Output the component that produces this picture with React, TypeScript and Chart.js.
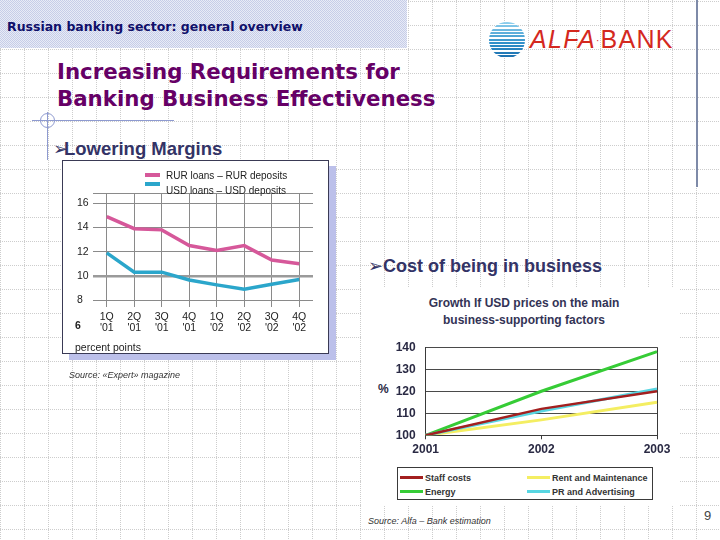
import React, { useEffect, useRef } from "react";
import { Chart, registerables } from "chart.js";

Chart.register(...registerables);

// ---------- Left chart data: Lowering margins ----------
const quarterLabels = [
  ["1Q", "'01"], ["2Q", "'01"], ["3Q", "'01"], ["4Q", "'01"],
  ["1Q", "'02"], ["2Q", "'02"], ["3Q", "'02"], ["4Q", "'02"],
];
const rurMargin = [14.9, 13.9, 13.8, 12.5, 12.1, 12.5, 11.3, 11.0];
const usdMargin = [11.9, 10.3, 10.3, 9.65, 9.25, 8.9, 9.3, 9.7];
const marginTicks = [8, 10, 12, 14, 16];
const marginTop = 16.85;
const marginSeriesNames = ["RUR loans – RUR deposits", "USD loans – USD deposits"];

// ---------- Right chart data: growth of USD prices ----------
const years = ["2001", "2002", "2003"];
const staffCosts = [100, 112, 120];
const rentMaintenance = [100, 107, 115];
const energy = [100, 120, 138];
const prAdvertising = [100, 111, 121];
const growthTicks = [100, 110, 120, 130, 140];
const growthSeriesNames = ["Staff costs", "Rent and Maintenance", "Energy", "PR and Advertising"];

const PINK = "#d6589a";
const BLUE = "#2ba6cb";
const RED = "#a31f1f";
const YELLOW = "#f4ee62";
const GREEN = "#36cc36";
const CYAN = "#58d6e2";

const SANS = "'Liberation Sans', Arial, sans-serif";
const DEJA = "'DejaVu Sans', sans-serif";

const gridTile =
  "url(\"data:image/svg+xml;utf8,<svg xmlns='http://www.w3.org/2000/svg' width='24' height='24'><path d='M0.5 0V24M0 1.5H24' stroke='%23cdcdcd' stroke-width='1' stroke-dasharray='1 1'/></svg>\")";
const checkTile =
  "url(\"data:image/svg+xml;utf8,<svg xmlns='http://www.w3.org/2000/svg' width='2' height='2'><rect width='2' height='2' fill='%23e8ebf6'/><rect width='1' height='1' fill='%23c6cde8'/><rect x='1' y='1' width='1' height='1' fill='%23c6cde8'/></svg>\")";

function ChartCanvas(props: { config: any; left: number; top: number; width: number; height: number }) {
  const ref = useRef<HTMLCanvasElement>(null);
  useEffect(() => {
    const chart = new Chart(ref.current as HTMLCanvasElement, props.config);
    return () => chart.destroy();
  }, []);
  return (
    <canvas
      ref={ref}
      width={props.width}
      height={props.height}
      style={{ position: "absolute", left: props.left, top: props.top, width: props.width, height: props.height }}
    />
  );
}

function T(props: { x: number; y: number; size: number; children: any; style?: any; anchor?: "left" | "center" | "right" }) {
  const { x, y, size, children, style, anchor } = props;
  const tr = anchor === "center" ? "translateX(-50%)" : anchor === "right" ? "translateX(-100%)" : "none";
  return (
    <div
      style={{
        position: "absolute",
        left: x,
        top: y - size / 2,
        fontSize: size,
        lineHeight: `${size}px`,
        whiteSpace: "nowrap",
        transform: tr,
        fontFamily: SANS,
        ...style,
      }}
    >
      {children}
    </div>
  );
}

const marginConfig = {
  type: "line",
  data: {
    labels: quarterLabels,
    datasets: [
      { label: marginSeriesNames[0], data: rurMargin, borderColor: PINK, borderWidth: 3.5, pointRadius: 0, tension: 0 },
      { label: marginSeriesNames[1], data: usdMargin, borderColor: BLUE, borderWidth: 3.5, pointRadius: 0, tension: 0 },
    ],
  },
  options: {
    animation: false,
    responsive: false,
    maintainAspectRatio: false,
    layout: { padding: { left: 15, right: 16, top: 32, bottom: 0 } },
    plugins: { legend: { display: false }, tooltip: { enabled: false }, title: { display: false } },
    scales: {
      x: {
        offset: true,
        grid: { color: "#8a8a8a", lineWidth: 1, tickLength: 7, drawTicks: true, offset: false },
        border: { display: false },
        ticks: {
          autoSkip: false,
          maxRotation: 0,
          padding: 4,
          color: "#222",
          font: { family: SANS, size: 10.5, lineHeight: 1.1 },
        },
        afterFit: (s: any) => { s.height = 54; },
      },
      y: {
        min: 8,
        max: marginTop,
        afterBuildTicks: (s: any) => {
          s.ticks = [...marginTicks, marginTop].map((value) => ({ value }));
        },
        ticks: {
          crossAlign: "far",
          padding: 0,
          color: "#222",
          font: { family: SANS, size: 10.5 },
          callback: (v: any) => (marginTicks.includes(v) ? String(v) : ""),
        },
        grid: {
          drawTicks: false,
          color: (ctx: any) => (ctx.tick && ctx.tick.value === 10 ? "#9a9a9a" : "#8a8a8a"),
          lineWidth: (ctx: any) => (ctx.tick && ctx.tick.value === 10 ? 2.5 : 1),
        },
        border: { display: false },
        afterFit: (s: any) => { s.width = 16; },
      },
    },
  },
};

const growthConfig = {
  type: "line",
  data: {
    labels: years,
    datasets: [
      { label: growthSeriesNames[0], data: staffCosts, borderColor: RED, borderWidth: 2.5, pointRadius: 0, tension: 0 },
      { label: growthSeriesNames[3], data: prAdvertising, borderColor: CYAN, borderWidth: 3, pointRadius: 0, tension: 0 },
      { label: growthSeriesNames[2], data: energy, borderColor: GREEN, borderWidth: 3, pointRadius: 0, tension: 0 },
      { label: growthSeriesNames[1], data: rentMaintenance, borderColor: YELLOW, borderWidth: 3, pointRadius: 0, tension: 0 },
    ],
  },
  options: {
    animation: false,
    responsive: false,
    maintainAspectRatio: false,
    layout: { padding: { left: 0, right: 23, top: 13.5, bottom: 0 } },
    plugins: { legend: { display: false }, tooltip: { enabled: false }, title: { display: false } },
    scales: {
      x: {
        grid: {
          color: (ctx: any) => (ctx.index === 2 ? "#3a3a3a" : "rgba(0,0,0,0)"),
          tickColor: "#3a3a3a",
          tickLength: 4,
          lineWidth: 1,
        },
        border: { display: true, color: "#3a3a3a", width: 1 },
        ticks: { maxRotation: 0, padding: 3, color: "#2a2a44", font: { family: SANS, size: 12, weight: "bold" } },
        afterFit: (s: any) => { s.height = 29.7; },
      },
      y: {
        min: 100,
        max: 140,
        ticks: {
          stepSize: 10,
          padding: 10,
          color: "#2a2a44",
          font: { family: SANS, size: 12, weight: "bold" },
          callback: (v: any) => (growthTicks.includes(v) ? String(v) : ""),
        },
        grid: { color: "#4a4a4a", drawTicks: false, lineWidth: 1 },
        border: { display: true, color: "#3a3a3a", width: 1 },
        afterFit: (s: any) => { s.width = 45.7; },
      },
    },
  },
};

function LegendLine(props: { x: number; y: number; w: number; h: number; color: string }) {
  return (
    <div
      style={{
        position: "absolute",
        left: props.x,
        top: props.y - props.h / 2,
        width: props.w,
        height: props.h,
        background: props.color,
      }}
    />
  );
}

export default function App() {
  const navy = "#333366";
  return (
    <div
      style={{
        position: "fixed",
        left: 0,
        top: 0,
        width: 720,
        height: 540,
        overflow: "hidden",
        background: "#fff",
        backgroundImage: gridTile,
        backgroundRepeat: "repeat",
        fontFamily: SANS,
      }}
    >
      {/* header band */}
      <div style={{ position: "absolute", left: 0, top: 0, width: 407, height: 48, backgroundImage: checkTile }} />
      <T x={7} y={27} size={12.5} style={{ fontFamily: DEJA, fontWeight: "bold", color: "#10106a" }}>
        Russian banking sector: general overview
      </T>
      {/* right vertical line */}
      <div style={{ position: "absolute", left: 696, top: 0, width: 1.5, height: 187, background: "#7e8aa8" }} />

      {/* logo */}
      <div
        style={{
          position: "absolute",
          left: 489,
          top: 22,
          width: 36,
          height: 36,
          borderRadius: "50%",
          background:
            "repeating-linear-gradient(to bottom, rgba(255,255,255,0) 0px, rgba(255,255,255,0) 2px, #ffffff 2px, #ffffff 3.3px), linear-gradient(to bottom, #8fd0ee, #2f8fc8 60%, #1c6fae)",
        }}
      />
      <div
        style={{
          position: "absolute",
          left: 530,
          top: 24,
          fontFamily: SANS,
          fontSize: 25,
          lineHeight: "30px",
          color: "#d4281e",
          whiteSpace: "nowrap",
          letterSpacing: 1.3,
        }}
      >
        <span style={{ fontStyle: "italic" }}>ALFA</span>
        <span style={{ fontSize: 10, verticalAlign: "middle" }}>·</span>
        <span>BANK</span>
      </div>

      {/* slide title */}
      <T x={57} y={72} size={21.3} style={{ fontFamily: DEJA, fontWeight: "bold", color: "#660066" }}>
        Increasing Requirements for
      </T>
      <T x={57} y={99} size={21.3} style={{ fontFamily: DEJA, fontWeight: "bold", color: "#660066" }}>
        Banking Business Effectiveness
      </T>
      {/* decorative rule */}
      <div style={{ position: "absolute", left: 32, top: 119.5, width: 142, height: 1, background: "#8e9ad0" }} />
      <div style={{ position: "absolute", left: 40, top: 113, width: 13, height: 13, borderRadius: "50%", border: "1px solid #8e9ad0" }} />
      <div style={{ position: "absolute", left: 46.5, top: 112, width: 1, height: 48, background: "#8e9ad0" }} />

      {/* section headings */}
      <T x={53} y={149} size={18} style={{ fontFamily: DEJA, color: navy }}>➢</T>
      <T x={64} y={149} size={18.5} style={{ fontWeight: "bold", color: navy }}>Lowering Margins</T>
      <T x={368} y={266} size={18} style={{ fontFamily: DEJA, color: navy }}>➢</T>
      <T x={383} y={266} size={18} style={{ fontWeight: "bold", color: navy }}>Cost of being in business</T>

      {/* left chart box */}
      <div style={{ position: "absolute", left: 69, top: 166, width: 267, height: 194, background: "#bcc0ea" }} />
      <div style={{ position: "absolute", left: 62, top: 160, width: 267, height: 194, background: "#fff", border: "1px solid #3a3a55", boxSizing: "border-box" }} />
      <ChartCanvas config={marginConfig} left={62} top={161} width={267} height={193} />
      <LegendLine x={145} y={175} w={15} h={4} color={PINK} />
      <LegendLine x={145} y={184} w={15} h={4} color={BLUE} />
      <T x={166} y={175.5} size={10} style={{ color: "#222" }}>{marginSeriesNames[0]}</T>
      <T x={166} y={190.5} size={10} style={{ color: "#222" }}>{marginSeriesNames[1]}</T>
      <T x={75} y={325} size={10.5} style={{ color: "#222", fontWeight: "bold" }}>6</T>
      <T x={75} y={347} size={10.5} style={{ color: "#222" }}>percent points</T>
      <T x={69} y={375} size={9} style={{ color: "#333", fontStyle: "italic" }}>Source: «Expert» magazine</T>

      {/* right chart panel */}
      <div style={{ position: "absolute", left: 362, top: 288, width: 318, height: 218, background: "#fff" }} />
      <T x={524} y={303} size={12} anchor="center" style={{ fontWeight: "bold", color: "#333355" }}>
        Growth If USD prices on the main
      </T>
      <T x={524} y={319.5} size={12} anchor="center" style={{ fontWeight: "bold", color: "#333355" }}>
        business-supporting factors
      </T>
      <T x={378} y={389} size={12} style={{ fontWeight: "bold", color: "#2a2a44" }}>%</T>
      <ChartCanvas config={growthConfig} left={380} top={330} width={300} height={135} />
      <div style={{ position: "absolute", left: 397, top: 467, width: 256, height: 33, border: "1px solid #3a3a3a", boxSizing: "border-box" }} />
      <LegendLine x={400} y={477.5} w={23} h={3} color={RED} />
      <LegendLine x={400} y={491.5} w={23} h={3} color={GREEN} />
      <LegendLine x={527} y={477.5} w={23} h={3} color={YELLOW} />
      <LegendLine x={527} y={491.5} w={23} h={3} color={CYAN} />
      <T x={425} y={478} size={9} style={{ fontWeight: "bold", color: "#333" }}>{growthSeriesNames[0]}</T>
      <T x={425} y={492} size={9} style={{ fontWeight: "bold", color: "#333" }}>{growthSeriesNames[2]}</T>
      <T x={552} y={478} size={9} style={{ fontWeight: "bold", color: "#333" }}>{growthSeriesNames[1]}</T>
      <T x={552} y={492} size={9} style={{ fontWeight: "bold", color: "#333" }}>{growthSeriesNames[3]}</T>
      <T x={368} y={521.5} size={9} style={{ fontStyle: "italic", color: "#333" }}>Source: Alfa – Bank estimation</T>

      {/* page number */}
      <T x={704} y={515} size={13} style={{ color: "#444" }}>9</T>
    </div>
  );
}
